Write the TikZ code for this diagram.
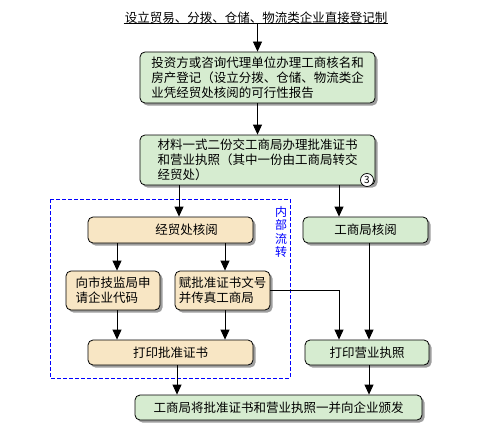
\documentclass[tikz,border=0pt]{standalone}
\usepackage{fontspec}
\setmainfont{Noto Sans CJK SC}
\usetikzlibrary{arrows.meta,shadows}
\definecolor{boxgreen}{RGB}{214,236,208}
\definecolor{boxtan}{RGB}{248,230,196}
\begin{document}
\begin{tikzpicture}[
    x=1pt,y=-1pt,
    every node/.style={font=\fontsize{12.5}{15}\selectfont},
    box/.style={draw,rounded corners=5pt,line width=.8pt,inner sep=0pt,
        drop shadow={shadow xshift=2.5pt,shadow yshift=-2.5pt,fill=black!38,opacity=1}},
    green box/.style={box,fill=boxgreen},
    tan box/.style={box,fill=boxtan},
    arr/.style={-{Triangle[width=9pt,length=10pt]},line width=.8pt}]
    \useasboundingbox (0,0) rectangle (500,436);

    \coordinate (xa) at (179,0);
    \coordinate (xb) at (339,0);
    \coordinate (xc) at (117,0);
    \coordinate (xd) at (225,0);
    \coordinate (xe) at (369,0);
    \coordinate (xf) at (177,0);

    \draw[blue,line width=.8pt,dash pattern=on 4pt off 2pt] (50,199) rectangle (290,378);
    \node[blue,align=center,font=\fontsize{12}{13.3}\selectfont] (inner) at (281,232)
        {内\\部\\流\\转};

    \node[anchor=south,inner sep=0pt] (title) at (256,23.5)
        {设立贸易、分拨、仓储、物流类企业直接登记制};
    \draw[line width=.8pt] ([xshift=-1pt]title.south west) -- ([xshift=1pt]title.south east);

    \node[green box,minimum width=235pt,minimum height=51pt,align=left] (app) at (257.5,77.5)
        {投资方或咨询代理单位办理工商核名和\\房产登记（设立分拨、仓储、物流类企\\业凭经贸处核阅的可行性报告};
    \node[green box,minimum width=235pt,minimum height=50pt,align=left] (mat) at (257.5,160)
        {材料一式二份交工商局办理批准证书\\和营业执照（其中一份由工商局转交\\经贸处）};
    \node[draw,circle,fill=white,inner sep=0pt,minimum size=13pt,line width=.7pt,
        font=\fontsize{10}{10}\selectfont] (three) at (367,180) {3};

    \node[tan box,minimum width=165pt,minimum height=26pt] (jmc) at (170.5,230)
        {\hspace*{32pt}经贸处核阅};
    \node[tan box,minimum width=94pt,minimum height=39pt,align=left] (qydm) at (113,290.5)
        {向市技监局申\\请企业代码};
    \node[tan box,minimum width=95pt,minimum height=39pt,align=left] (pzwh) at (222.5,290.5)
        {赋批准证书文号\\并传真工商局};
    \node[tan box,minimum width=165pt,minimum height=25pt] (dypz) at (170.5,352.5) {打印批准证书};

    \node[green box,minimum width=125pt,minimum height=26pt] (gsh) at (365.5,230) {工商局核阅};
    \node[green box,minimum width=124pt,minimum height=25pt] (dyzz) at (367,352.5) {打印营业执照};

    \node[green box,minimum width=287pt,minimum height=25pt] (ban) at (278.5,407.5)
        {工商局将批准证书和营业执照一并向企业颁发};

    \draw[arr] (title.south -| app.north) -- (app.north);
    \draw[arr] (app.south) -- (mat.north);
    \draw[arr] (mat.south -| xa) -- (jmc.north -| xa);
    \draw[arr] (mat.south -| xb) -- (gsh.north -| xb);
    \foreach \c/\a/\b in {xc/jmc/qydm,xd/jmc/pzwh,xc/qydm/dypz,xd/pzwh/dypz}
        \draw[arr] (\a.south -| \c) -- (\b.north -| \c);
    \draw[arr] (pzwh.east) -| (dyzz.north -| xb);
    \draw[arr] (gsh.south -| xe) -- (dyzz.north -| xe);
    \draw[arr] (dypz.south -| xf) -- (ban.north -| xf);
    \draw[arr] (dyzz.south -| xe) -- (ban.north -| xe);
\end{tikzpicture}
\end{document}
